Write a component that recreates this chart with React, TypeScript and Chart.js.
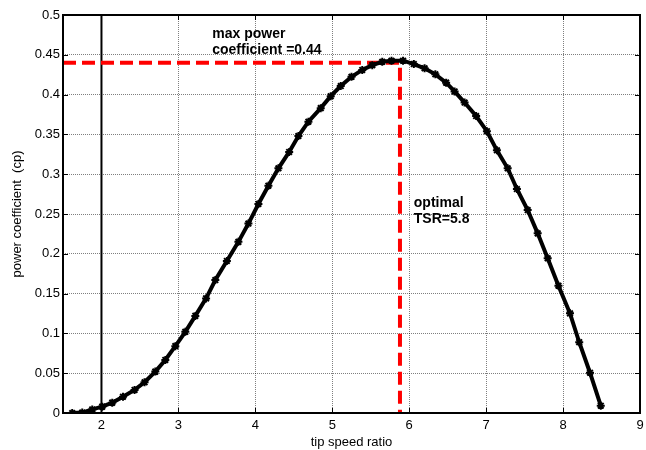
import React, { useEffect, useRef } from 'react';
import { Chart, registerables } from 'chart.js';

Chart.register(...registerables);

// ---- data ----
const tsr = [
  1.62, 1.75, 1.88, 2.01, 2.14, 2.28, 2.43, 2.56, 2.70, 2.83,
  2.96, 3.09, 3.22, 3.36, 3.48, 3.63, 3.78, 3.91, 4.04, 4.17,
  4.30, 4.44, 4.56, 4.69, 4.85, 4.98, 5.11, 5.25, 5.39, 5.52,
  5.65, 5.77, 5.92, 6.06, 6.20, 6.34, 6.48, 6.59, 6.72, 6.87,
  7.01, 7.14, 7.28, 7.40, 7.54, 7.67, 7.80, 7.94, 8.09, 8.21,
  8.35, 8.49,
];
const cp = [
  0.000, 0.0005, 0.0045, 0.008, 0.013, 0.0205, 0.029, 0.0386, 0.052, 0.0666,
  0.084, 0.102, 0.122, 0.144, 0.167, 0.191, 0.215, 0.238, 0.2626, 0.2855,
  0.3074, 0.328, 0.348, 0.366, 0.383, 0.398, 0.4107, 0.4224, 0.431, 0.437,
  0.4412, 0.4426, 0.4426, 0.4384, 0.433, 0.4255, 0.415, 0.404, 0.390, 0.3731,
  0.354, 0.330, 0.3074, 0.2814, 0.2550, 0.2257, 0.1943, 0.1599, 0.1252, 0.0889,
  0.0506, 0.0092,
];
const xTicks = [2, 3, 4, 5, 6, 7, 8, 9];
const yTicks = [0, 0.05, 0.1, 0.15, 0.2, 0.25, 0.3, 0.35, 0.4, 0.45, 0.5];
const xMin = 1.5;
const xMax = 9;
const yMin = 0;
const yMax = 0.5;

const vLineX = [2, 2];
const vLineY = [0, 0.5];

const refLineX = [1.5, 5.88, 5.88];
const refLineY = [0.44, 0.44, 0];

const noteTexts = ['max power', 'coefficient =0.44', 'optimal', 'TSR=5.8'];
const noteX = [3.44, 3.44, 6.06, 6.06];
const noteY = [0.4705, 0.451, 0.2588, 0.2391];

const FONT = 'Arial, "Liberation Sans", sans-serif';

const boxPlugin = {
  id: 'boxPlugin',
  afterDraw(chart: any) {
    const { ctx, chartArea: a, scales } = chart;
    const xs = scales.x;
    const ys = scales.y;
    ctx.save();
    // inward tick marks
    ctx.strokeStyle = '#000';
    ctx.lineWidth = 1;
    const tl = 5;
    xTicks.forEach((v) => {
      const px = Math.round(xs.getPixelForValue(v)) + 0.5;
      ctx.beginPath();
      ctx.moveTo(px, a.bottom);
      ctx.lineTo(px, a.bottom - tl);
      ctx.moveTo(px, a.top);
      ctx.lineTo(px, a.top + tl);
      ctx.stroke();
    });
    yTicks.forEach((v) => {
      const py = Math.round(ys.getPixelForValue(v)) + 0.5;
      ctx.beginPath();
      ctx.moveTo(a.left, py);
      ctx.lineTo(a.left + tl, py);
      ctx.moveTo(a.right, py);
      ctx.lineTo(a.right - tl, py);
      ctx.stroke();
    });
    // box
    ctx.lineWidth = 2;
    ctx.strokeRect(a.left, a.top, a.right - a.left, a.bottom - a.top);
    // annotations
    ctx.fillStyle = '#000';
    ctx.font = 'bold 14px ' + FONT;
    ctx.textAlign = 'left';
    ctx.textBaseline = 'alphabetic';
    noteTexts.forEach((t, i) => {
      ctx.fillText(t, xs.getPixelForValue(noteX[i]), ys.getPixelForValue(noteY[i]));
    });
    ctx.restore();
  },
};

export default function App() {
  const ref = useRef<HTMLCanvasElement | null>(null);

  useEffect(() => {
    if (!ref.current) return;
    const chart = new Chart(ref.current, {
      type: 'line',
      data: {
        datasets: [
          {
            label: 'cp',
            data: tsr.map((x, i) => ({ x, y: cp[i] })),
            borderColor: '#000',
            backgroundColor: '#000',
            borderWidth: 4,
            pointStyle: 'star',
            pointRadius: 4,
            pointBorderWidth: 2,
            pointBorderColor: '#000',
            tension: 0,
            fill: false,
          },
          {
            label: 'ref',
            data: refLineX.map((x, i) => ({ x, y: refLineY[i] })),
            borderColor: '#ff0000',
            borderWidth: 4,
            borderDash: [13, 6],
            pointRadius: 0,
            tension: 0,
            fill: false,
          },
          {
            label: 'v',
            data: vLineX.map((x, i) => ({ x, y: vLineY[i] })),
            borderColor: '#000',
            borderWidth: 2,
            pointRadius: 0,
            fill: false,
          },
        ],
      },
      options: {
        responsive: false,
        animation: false,
        events: [],
        layout: { padding: { top: 15, right: 2, left: 0, bottom: 0 } },
        plugins: {
          legend: { display: false },
          tooltip: { enabled: false },
        },
        scales: {
          x: {
            type: 'linear',
            min: xMin,
            max: xMax,
            afterBuildTicks: (s: any) => {
              s.ticks = xTicks.map((v) => ({ value: v }));
            },
            afterFit: (s: any) => {
              s.height = 37;
              s.paddingLeft = 0;
              s.paddingRight = 0;
            },
            ticks: {
              autoSkip: false,
              maxRotation: 0,
              padding: 5,
              color: '#000',
              font: { family: FONT, size: 13 },
              callback: (v: any) => String(v),
            },
            grid: {
              color: 'rgba(0,0,0,0.5)',
              lineWidth: 1,
              drawTicks: false,
            },
            border: { display: false, dash: [1, 1] },
            title: {
              display: true,
              text: 'tip speed ratio',
              color: '#000',
              font: { family: FONT, size: 13 },
              padding: { top: 0, bottom: 0 },
            },
          },
          y: {
            type: 'linear',
            min: yMin,
            max: yMax,
            afterBuildTicks: (s: any) => {
              s.ticks = yTicks.map((v) => ({ value: v }));
            },
            afterFit: (s: any) => {
              s.width = 63;
              s.paddingTop = 0;
              s.paddingBottom = 0;
            },
            ticks: {
              autoSkip: false,
              padding: 3,
              color: '#000',
              font: { family: FONT, size: 13 },
              callback: (v: any) => String(parseFloat(Number(v).toFixed(2))),
            },
            grid: {
              color: 'rgba(0,0,0,0.5)',
              lineWidth: 1,
              drawTicks: false,
            },
            border: { display: false, dash: [1, 1] },
            title: {
              display: true,
              text: 'power coefficient  (cp)',
              color: '#000',
              font: { family: FONT, size: 13 },
              padding: { top: 10, bottom: 0 },
            },
          },
        },
      },
      plugins: [boxPlugin],
    });
    return () => chart.destroy();
  }, []);

  return (
    <div style={{ position: 'absolute', left: 0, top: 0, width: 646, height: 450, background: '#fff' }}>
      <canvas ref={ref} width={646} height={450} />
    </div>
  );
}
